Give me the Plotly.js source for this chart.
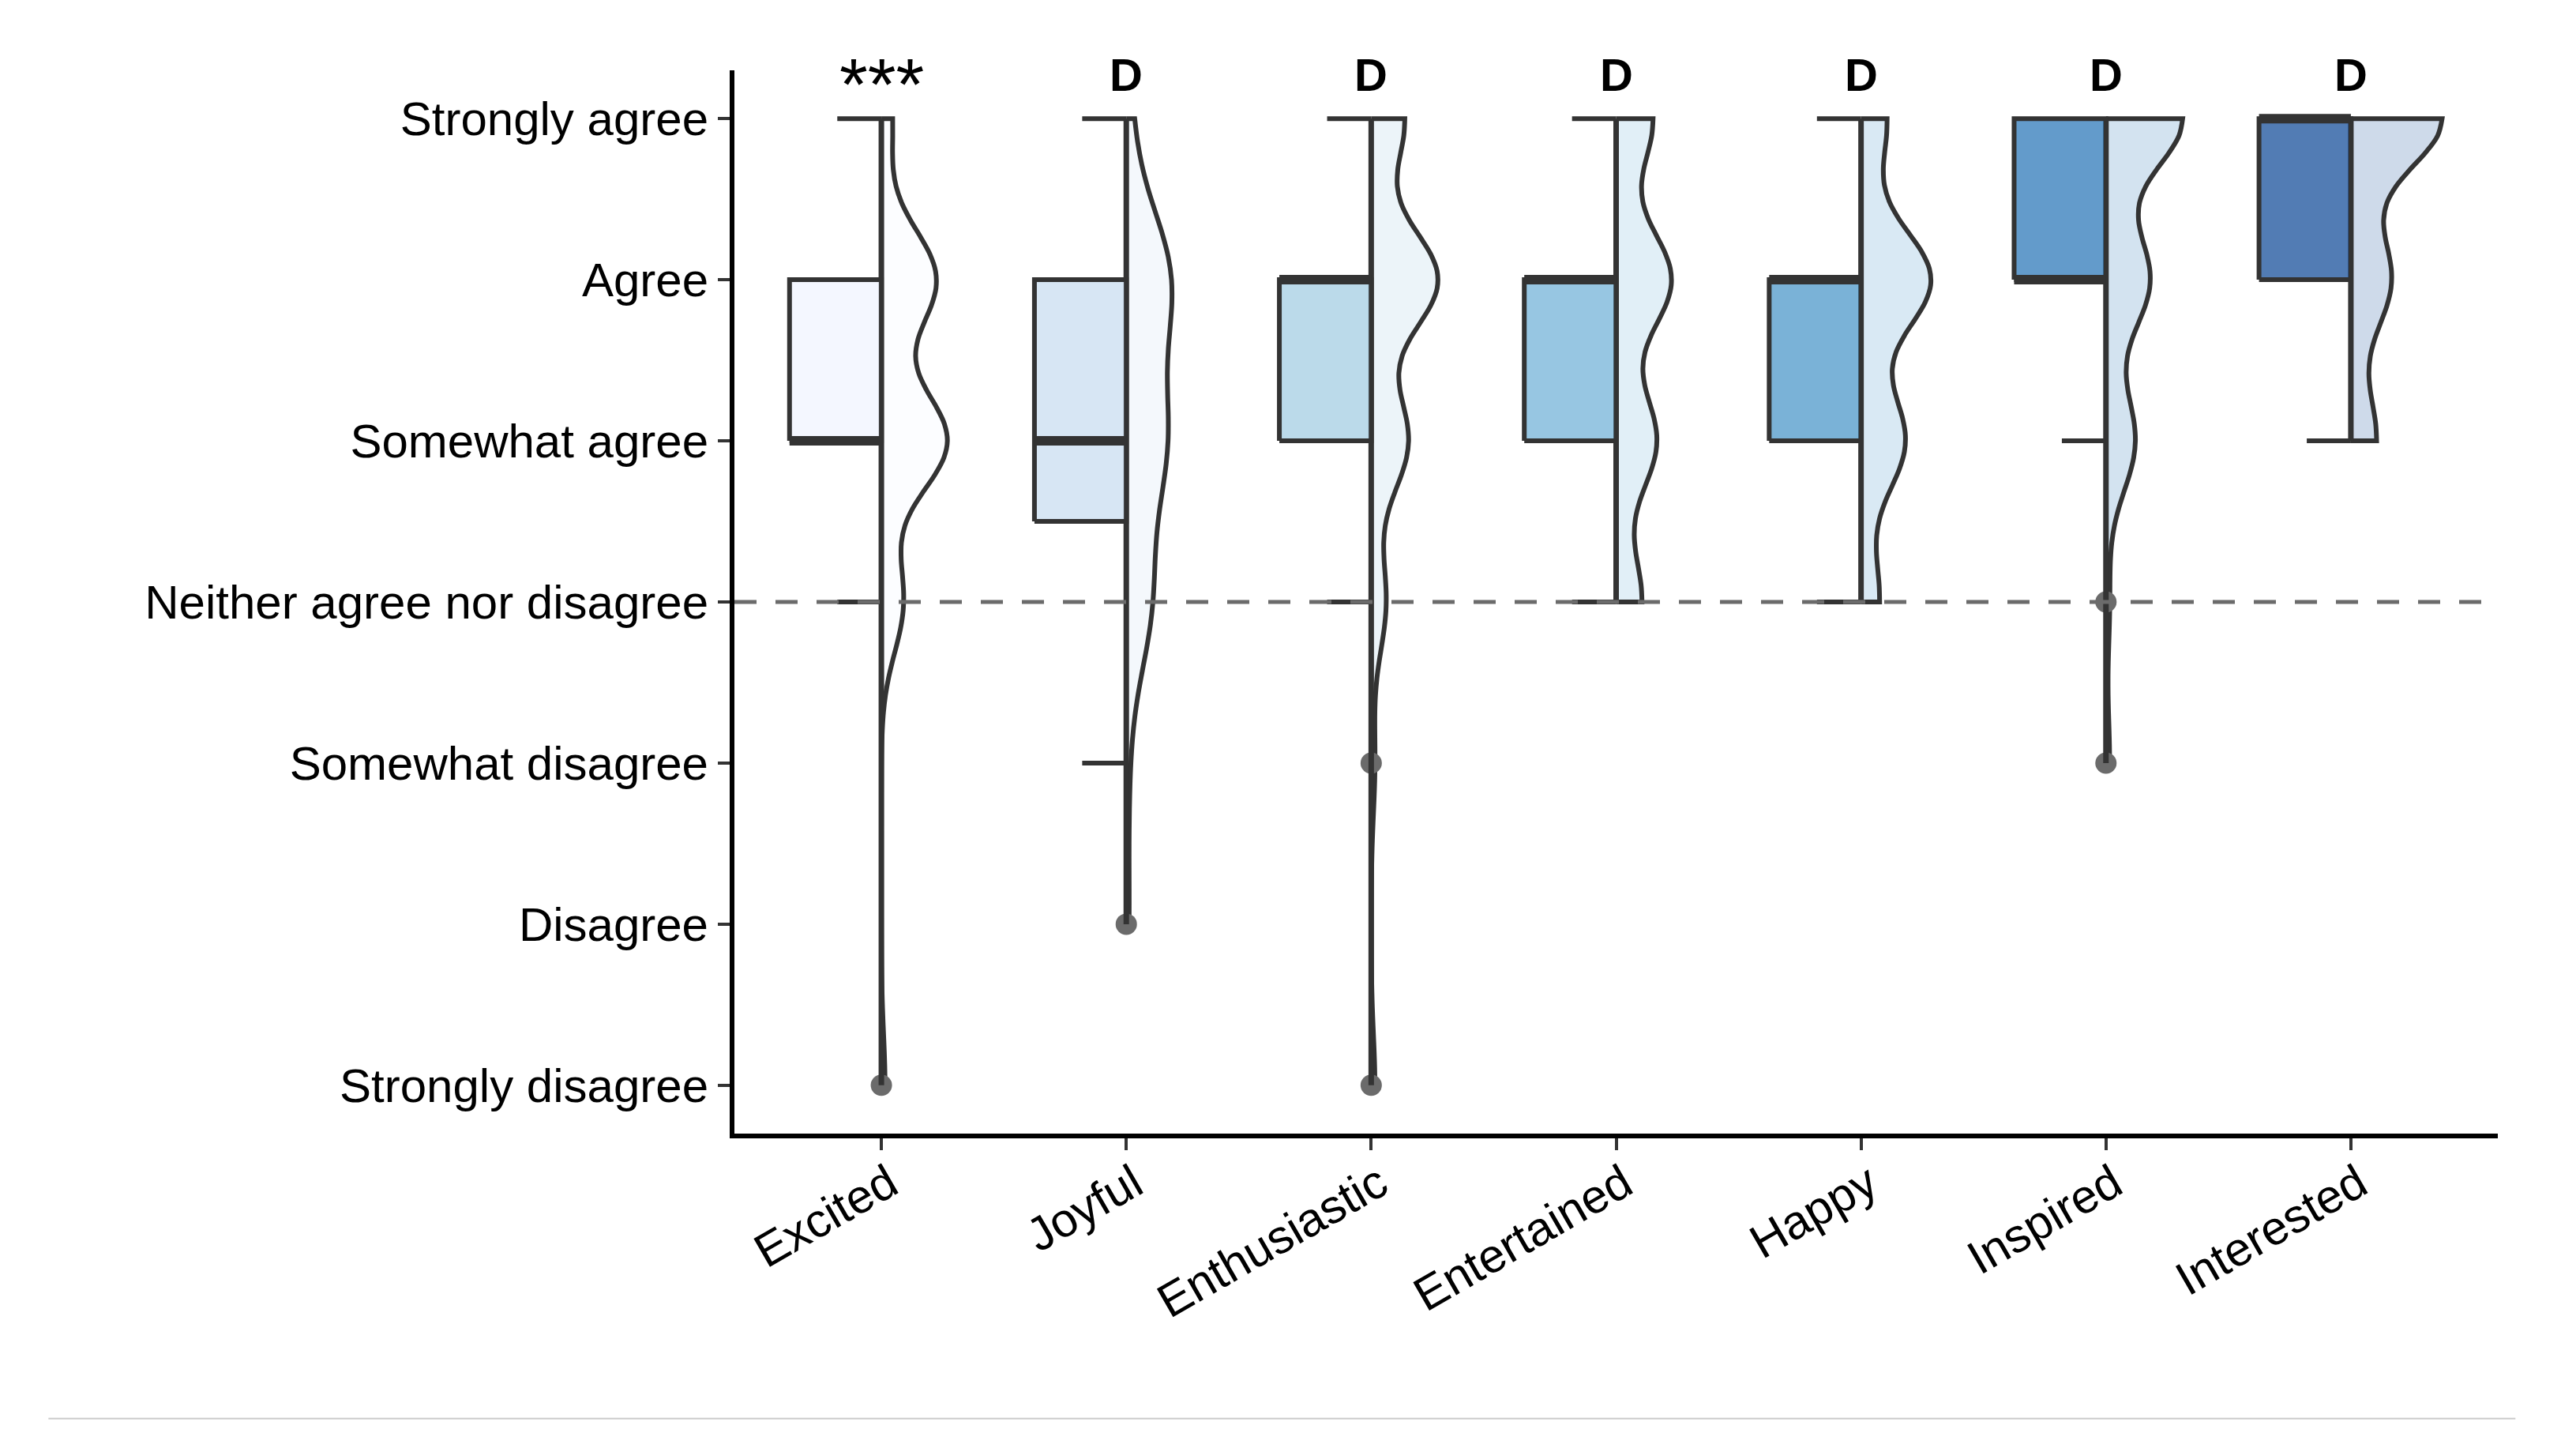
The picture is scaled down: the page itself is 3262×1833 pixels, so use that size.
<!DOCTYPE html>
<html><head><meta charset="utf-8">
<script src="https://cdn.plot.ly/plotly-3.0.1.min.js"></script>
<style>html,body{margin:0;padding:0;background:#fff;}#chart{width:3262px;height:1833px;}</style>
</head><body><div id="chart"></div>
<script>
// ---- data ----
const categories = ['Excited','Joyful','Enthusiastic','Entertained','Happy','Inspired','Interested'];
const levelLabels = ['Strongly disagree','Disagree','Somewhat disagree','Neither agree nor disagree','Somewhat agree','Agree','Strongly agree'];
const levelValues = [1,2,3,4,5,6,7];
const sigLabels = ['***','D','D','D','D','D','D'];
// number of responses at each level 1..7
const countsExcited      = [1,0,0,6,18,15,3];
const countsJoyful       = [0,1,1,9,14,16,2];
const countsEnthusiastic = [1,0,1,4,10,18,9];
const countsEntertained  = [0,0,0,7,11,15,10];
const countsHappy        = [0,0,0,5,12,19,7];
const countsInspired     = [0,0,1,1,8,12,21];
const countsInterested   = [0,0,0,0,7,11,25];
const neutralLevel = 4;
const palette = ['#EFF3FF','#C6DBEF','#9ECAE1','#6BAED6','#4292C6','#2171B5','#084594'];

// ---- helpers ----
const allCounts = [countsExcited,countsJoyful,countsEnthusiastic,countsEntertained,countsHappy,countsInspired,countsInterested];
function expand(counts){const s=[];counts.forEach((c,i)=>{for(let k=0;k<c;k++)s.push(levelValues[i]);});return s;}
function q7(sorted,p){const h=(sorted.length-1)*p;const lo=Math.floor(h);const hi=Math.min(lo+1,sorted.length-1);return sorted[lo]+(h-lo)*(sorted[hi]-sorted[lo]);}
function rgba(hex,a){const r=parseInt(hex.slice(1,3),16),g=parseInt(hex.slice(3,5),16),b=parseInt(hex.slice(5,7),16);return `rgba(${r},${g},${b},${a})`;}
function nrd0(s){const n=s.length;const m=s.reduce((a,b)=>a+b,0)/n;const sd=Math.sqrt(s.reduce((a,b)=>a+(b-m)*(b-m),0)/(n-1));
  const iqr=q7(s,0.75)-q7(s,0.25);return 0.9*Math.min(sd,iqr/1.34)*Math.pow(n,-0.2);}
function kdeMax(s,h){let best=0;for(let y=s[0];y<=s[s.length-1]+1e-9;y+=0.005){let d=0;for(const v of s){const u=(y-v)/h;d+=Math.exp(-0.5*u*u);}
  d/=s.length*h*Math.sqrt(2*Math.PI);if(d>best)best=d;}return best;}

const BOXW = 0.375, CAPW = 0.18, VMAXW = 0.745;
const DARK = '#333333', LW = 6;
const stats = allCounts.map(counts=>{const s=expand(counts).sort((a,b)=>a-b);const bw=nrd0(s);return {s,bw,km:kdeMax(s,bw)};});
const kmAll = Math.max(...stats.map(d=>d.km));

const violins=[], dots=[], spines=[], boxes=[], medians=[], caps=[];
stats.forEach((st,i)=>{
  const c=i+1, s=st.s;
  const q1=q7(s,0.25), med=q7(s,0.5), q3=q7(s,0.75), iqr=q3-q1;
  const inside=s.filter(v=>v>=q1-1.5*iqr && v<=q3+1.5*iqr);
  const lw=Math.min(...inside), uw=Math.max(...inside);
  const outl=[...new Set(s.filter(v=>v<q1-1.5*iqr||v>q3+1.5*iqr))];
  violins.push({type:'violin',x:s.map(()=>c),y:s,side:'positive',spanmode:'hard',points:false,bandwidth:st.bw,
    box:{visible:false},meanline:{visible:false},scalemode:'width',width:VMAXW*st.km/kmAll,
    fillcolor:rgba(palette[i],0.2),line:{color:DARK,width:LW},hoverinfo:'skip',showlegend:false});
  if(outl.length) dots.push({type:'scatter',mode:'markers',x:outl.map(()=>c),y:outl,
    marker:{color:'#6b6b6b',size:27,line:{width:0}},hoverinfo:'skip',showlegend:false});
  spines.push({type:'scatter',mode:'lines',x:[c,c],y:[s[0],s[s.length-1]],line:{color:DARK,width:LW+1},hoverinfo:'skip',showlegend:false});
  boxes.push({type:'scatter',mode:'lines',x:[c-BOXW,c,c,c-BOXW,c-BOXW],y:[q1,q1,q3,q3,q1],fill:'toself',
    fillcolor:rgba(palette[i],0.7),line:{color:DARK,width:LW},hoverinfo:'skip',showlegend:false});
  medians.push({type:'scatter',mode:'lines',x:[c-BOXW,c],y:[med,med],line:{color:DARK,width:12},hoverinfo:'skip',showlegend:false});
  if(uw>q3) caps.push({type:'scatter',mode:'lines',x:[c-CAPW,c],y:[uw,uw],line:{color:DARK,width:LW},hoverinfo:'skip',showlegend:false});
  if(lw<q1) caps.push({type:'scatter',mode:'lines',x:[c-CAPW,c],y:[lw,lw],line:{color:DARK,width:LW},hoverinfo:'skip',showlegend:false});
});

const FONT='Liberation Sans, Arial, sans-serif';
const annotations = sigLabels.map((t,i)=>{
  const star = !/^[A-Za-z]+$/.test(t);
  return {x:i+1,y:1,xref:'x',yref:'paper',yanchor:'middle',yshift: star?-18:-5,showarrow:false,
    text: star?t:'<b>'+t+'</b>', font:{family:FONT,size: star?92:58,color:'#000'}};
});

const axisCommon={type:'linear',showgrid:false,zeroline:false,showline:true,linecolor:'#000',linewidth:6,
  ticks:'outside',ticklen:15,tickwidth:4,tickcolor:DARK,tickfont:{family:FONT,size:60,color:'#000'},automargin:false};
const layout={
  width:3262,height:1833,paper_bgcolor:'#fff',plot_bgcolor:'#fff',
  margin:{l:930,r:99,t:89,b:398},showlegend:false,hovermode:false,
  violinmode:'overlay',
  xaxis:Object.assign({},axisCommon,{range:[0.4,7.6],tickvals:categories.map((_,i)=>i+1),ticktext:categories,tickangle:-30,
    ticklabelstandoff:-16,ticklabelshift:10}),
  yaxis:Object.assign({},axisCommon,{range:[0.7,7.3],tickvals:levelValues,ticktext:levelLabels}),
  shapes:[
    {type:'line',xref:'paper',yref:'y',x0:0,x1:1,y0:neutralLevel,y1:neutralLevel,layer:'above',
     line:{color:'#6b6b6b',width:5,dash:'28px,24px'}},
    {type:'line',xref:'paper',yref:'paper',x0:-0.389,x1:1.01,y0:-0.268,y1:-0.268,layer:'below',
     line:{color:'#cccccc',width:2}}
  ],
  annotations:annotations
};
Plotly.newPlot('chart',[...violins,...dots,...spines,...boxes,...medians,...caps],layout,{displayModeBar:false,staticPlot:true});
</script></body></html>
